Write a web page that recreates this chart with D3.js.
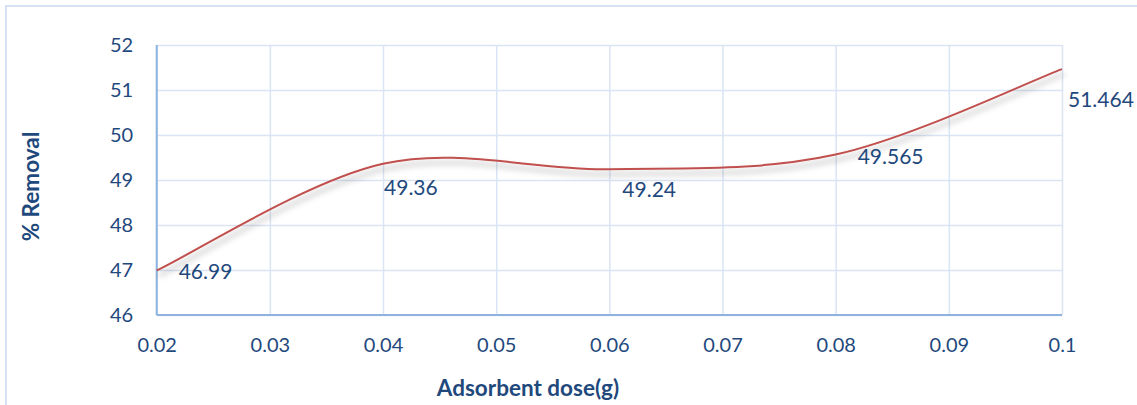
<!DOCTYPE html>
<html>
<head>
<meta charset="utf-8">
<script src="https://cdn.jsdelivr.net/npm/d3@7"></script>
<style>
  body { margin: 0; background: #fff; }
  svg { display: block; font-family: Lato, "Open Sans", sans-serif; }
</style>
</head>
<body>
<svg id="chart" width="1137" height="405"></svg>
<script>
// Removal efficiency against adsorbent dose
const doses = [0.02, 0.04, 0.06, 0.08, 0.1];
const removal = [46.99, 49.36, 49.24, 49.565, 51.464];
const valueLabels = ["46.99", "49.36", "49.24", "49.565", "51.464"];

const xTicks = [0.02, 0.03, 0.04, 0.05, 0.06, 0.07, 0.08, 0.09, 0.1];
const xTickLabels = ["0.02", "0.03", "0.04", "0.05", "0.06", "0.07", "0.08", "0.09", "0.1"];
const yTicks = [46, 47, 48, 49, 50, 51, 52];
const yTickLabels = ["46", "47", "48", "49", "50", "51", "52"];

// Where each value label sits relative to its point: [dx to left edge, dy to text centre]
const labelOffsets = [[22, 1.5], [1, 24], [13, 20.5], [22, 1.7], [6, 30.6]];

const svg = d3.select("#chart");
const W = 1137, H = 405;
const plot = { left: 156.7, right: 1062, top: 45, bottom: 315 };

const textColor = "#1f497d";
const gridColor = "#d9e4f4";
const axisColor = "#8fb3e0";

const x = d3.scaleLinear().domain([0.02, 0.1]).range([plot.left, plot.right]);
const y = d3.scaleLinear().domain([46, 52]).range([plot.bottom, plot.top]);

// Chart frame
svg.append("rect")
  .attr("x", 6).attr("y", 6)
  .attr("width", W + 20).attr("height", H + 20)
  .attr("fill", "#fff")
  .attr("stroke", "#d6e2f3").attr("stroke-width", 2);

// Soft drop shadow under the series line
const defs = svg.append("defs");
const f = defs.append("filter").attr("id", "lineShadow")
  .attr("x", "-5%").attr("y", "-20%").attr("width", "110%").attr("height", "160%");
f.append("feDropShadow")
  .attr("dx", 2).attr("dy", 5).attr("stdDeviation", 3)
  .attr("flood-color", "#000").attr("flood-opacity", 0.35);

// Horizontal gridlines + y tick labels
const yAxis = svg.append("g")
  .attr("transform", `translate(${plot.left},0)`)
  .call(d3.axisLeft(y)
    .tickValues(yTicks)
    .tickSize(-(plot.right - plot.left))
    .tickPadding(23.5)
    .tickFormat((d, i) => yTickLabels[i]));
yAxis.select(".domain").remove();
yAxis.selectAll("line").attr("stroke", gridColor).attr("stroke-width", 1.5);
yAxis.selectAll("text")
  .attr("fill", textColor).attr("font-size", 20).attr("font-family", "Lato, sans-serif");

// Vertical gridlines + x tick labels
const xAxis = svg.append("g")
  .attr("transform", `translate(0,${plot.bottom})`)
  .call(d3.axisBottom(x)
    .tickValues(xTicks)
    .tickSize(-(plot.bottom - plot.top))
    .tickPadding(23)
    .tickFormat((d, i) => xTickLabels[i]));
xAxis.select(".domain").remove();
xAxis.selectAll("line").attr("stroke", gridColor).attr("stroke-width", 1.5);
xAxis.selectAll("text")
  .attr("fill", textColor).attr("font-size", 20).attr("font-family", "Lato, sans-serif");

// Axis lines (left and bottom)
svg.append("line")
  .attr("x1", plot.left).attr("x2", plot.left)
  .attr("y1", plot.top).attr("y2", plot.bottom)
  .attr("stroke", axisColor).attr("stroke-width", 2);
svg.append("line")
  .attr("x1", plot.left).attr("x2", plot.right)
  .attr("y1", plot.bottom).attr("y2", plot.bottom)
  .attr("stroke", axisColor).attr("stroke-width", 2);

// Smoothed line: cubic Bezier segments with control points at 1/6 of the
// neighbouring chord, end points used as their own neighbours.
function SmoothCurve(context) { this._context = context; }
SmoothCurve.prototype = {
  areaStart() { this._line = 0; },
  areaEnd() { this._line = NaN; },
  lineStart() { this._pts = []; },
  point(px, py) { this._pts.push([+px, +py]); },
  lineEnd() {
    const p = this._pts, c = this._context, n = p.length;
    if (!n) return;
    c.moveTo(p[0][0], p[0][1]);
    for (let i = 0; i < n - 1; i++) {
      const a = p[Math.max(i - 1, 0)], b = p[i], d = p[i + 1], e = p[Math.min(i + 2, n - 1)];
      c.bezierCurveTo(
        b[0] + (d[0] - a[0]) / 6, b[1] + (d[1] - a[1]) / 6,
        d[0] - (e[0] - b[0]) / 6, d[1] - (e[1] - b[1]) / 6,
        d[0], d[1]);
    }
  }
};
const curveSmooth = ctx => new SmoothCurve(ctx);

const series = doses.map((d, i) => ({ dose: d, value: removal[i], label: valueLabels[i] }));

const line = d3.line()
  .x(d => x(d.dose))
  .y(d => y(d.value))
  .curve(curveSmooth);

svg.append("path")
  .datum(series)
  .attr("d", line)
  .attr("fill", "none")
  .attr("stroke", "#c0504d")
  .attr("stroke-width", 2)
  .attr("filter", "url(#lineShadow)");

// Value labels
svg.append("g").selectAll("text")
  .data(series)
  .join("text")
  .attr("x", (d, i) => x(d.dose) + labelOffsets[i][0])
  .attr("y", (d, i) => y(d.value) + labelOffsets[i][1])
  .attr("dy", "0.35em")
  .attr("fill", textColor)
  .attr("font-size", 21)
  .text(d => d.label);

// Axis titles
svg.append("text")
  .attr("transform", `translate(38.5,186.5) rotate(-90)`)
  .attr("text-anchor", "middle")
  .attr("fill", textColor)
  .attr("font-size", 22.5)
  .attr("font-weight", "bold")
  .text("% Removal");

svg.append("text")
  .attr("x", 528).attr("y", 395.5)
  .attr("text-anchor", "middle")
  .attr("fill", textColor)
  .attr("font-size", 22.5)
  .attr("font-weight", "bold")
  .text("Adsorbent dose(g)");
</script>
</body>
</html>
